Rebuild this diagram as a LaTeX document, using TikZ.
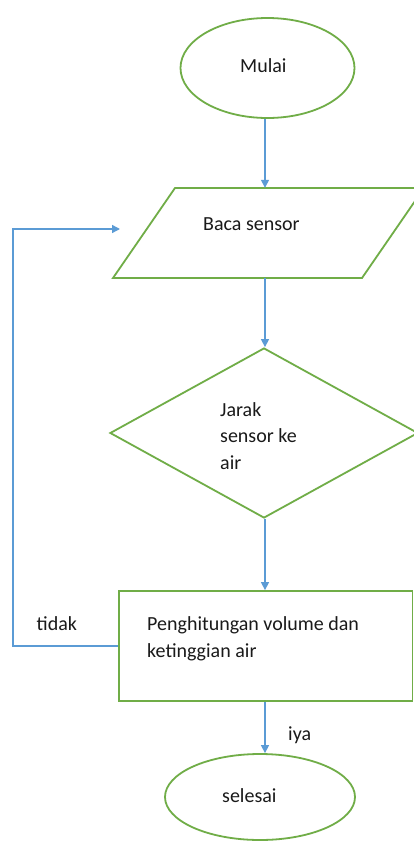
\documentclass[tikz,border=0pt]{standalone}
\usepackage{fontspec}
\setmainfont{Carlito}
\usetikzlibrary{shapes.geometric,arrows.meta}
\definecolor{offgreen}{HTML}{70AD47}
\definecolor{offblue}{HTML}{5B9BD5}
\definecolor{txt}{HTML}{1A1A1A}
\begin{document}
\begin{tikzpicture}[x=1pt,y=-1pt,
  shapebox/.style={draw=offgreen,line width=1.8pt,inner sep=0pt,fill=white},
  lbl/.style={anchor=base west,inner sep=0pt,text=txt,font=\fontsize{20}{26.5}\selectfont,align=left},
  arr/.style={draw=offblue,line width=1.4pt,-{Triangle[length=8pt,width=8pt]}}]
\useasboundingbox (0,0) rectangle (414,841);
\clip (0,0) rectangle (414,841);
\fill[white] (0,0) rectangle (414,841);
% shapes
\node[shapebox,ellipse,minimum width=174pt,minimum height=100pt] (mulai) at (267.5,68) {};
\coordinate (pTL) at (175,188);
\coordinate (pTR) at (424,188);
\coordinate (pBR) at (362,278);
\coordinate (pBL) at (113,278);
\draw[shapebox] (pTL) -- (pTR) -- (pBR) -- (pBL) -- cycle;
\node[inner sep=0pt,minimum width=249pt,minimum height=90pt] (baca) at (268.5,233) {};
\node[shapebox,diamond,minimum width=308pt,minimum height=170pt,shape aspect=1.81] (jarak) at (264,433) {};
\node[shapebox,rectangle,minimum width=293.5pt,minimum height=110pt] (hitung) at (265.75,646) {};
\node[shapebox,ellipse,minimum width=190pt,minimum height=86pt] (selesai) at (260,797) {};
% texts
\node[lbl] (tmulai) at (240,72) {Mulai};
\node[lbl] (tbaca) at (203,230) {Baca sensor};
\node[lbl] (tjarak) at (220,469) {Jarak\\sensor ke\\air};
\node[lbl] (thitung) at (147,657) {Penghitungan volume dan\\ketinggian air};
\node[lbl] (ttidak) at (36.5,630) {tidak};
\node[lbl] (tiya) at (288,740) {iya};
\node[lbl] (tselesai) at (222,802.5) {selesai};
% connectors
\coordinate (spine) at (265,0);
\coordinate (loopin) at (120,229);
\coordinate (loopx) at (13,0);
\draw[arr] (mulai.south -| spine) -- (baca.north -| spine);
\draw[arr] (baca.south -| spine) -- (jarak.north -| spine);
\draw[arr] (jarak.south -| spine) -- (hitung.north -| spine);
\draw[arr] (hitung.south -| spine) -- (selesai.north -| spine);
\draw[arr] (hitung.west) -| (loopx |- loopin) -- (loopin);
\end{tikzpicture}
\end{document}
